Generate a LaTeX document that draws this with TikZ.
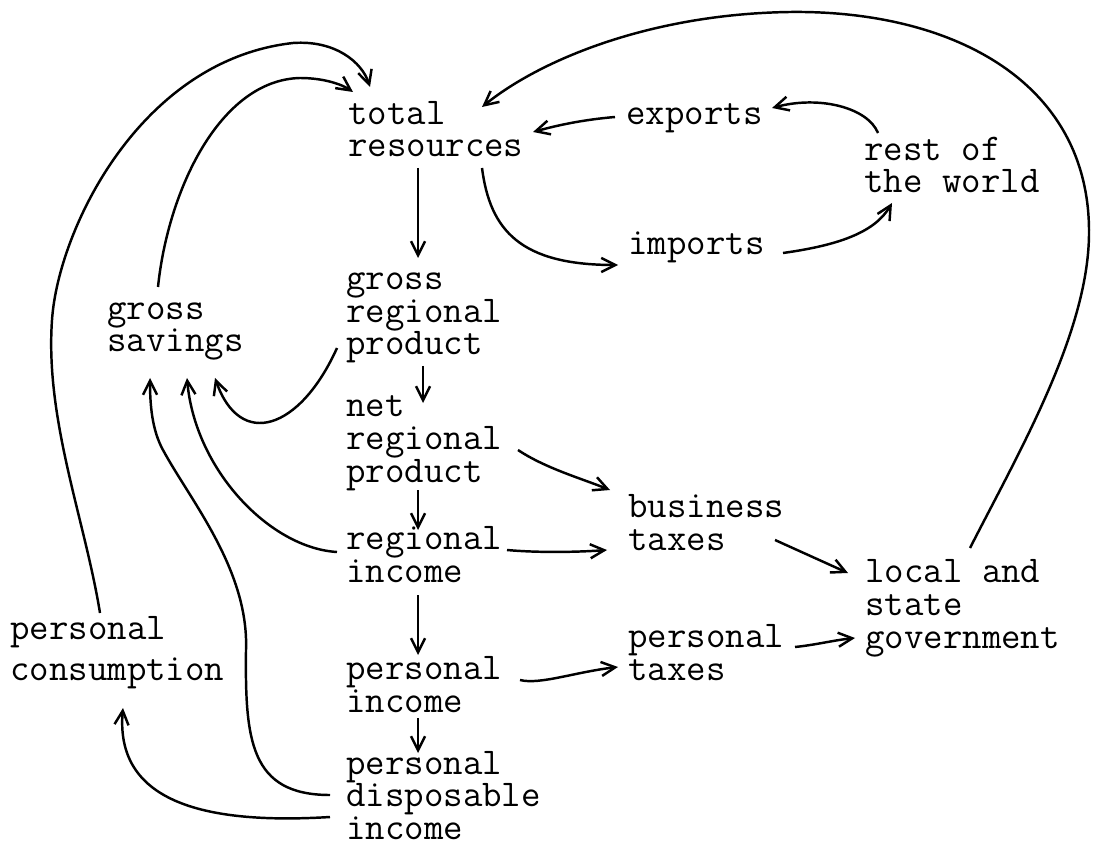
\documentclass[tikz,border=0pt]{standalone}
\usepackage{fontspec}
\usetikzlibrary{arrows.meta}

\begin{document}
\begin{tikzpicture}
  [x=0.02cm,y=-0.02cm,
   every node/.style={anchor=base west,align=left,inner sep=0pt,
     font=\ttfamily\fontsize{21.5pt}{18.5pt}\selectfont\addfontfeatures{FakeBold=1.3}},
   flow/.style={line width=1.4pt,-{Straight Barb[length=8pt,width=8pt]}}]
  \useasboundingbox (0,0) rectangle (1094,847);
  % accounts (placed at the baseline of their last line)
  \node (tr) at (348,157) {total\\resources};
  \node (exp) at (626,125) {exports};
  \node (row) at (864,193) {rest of\\the world};
  \node (imp) at (628,255) {imports};
  \node (grp) at (346,355) {gross\\regional\\product};
  \node (gs) at (107,352) {gross\\savings};
  \node (nrp) at (346,482) {net\\regional\\product};
  \node (bt) at (628,550) {business\\taxes};
  \node (ri) at (346,582) {regional\\income};
  \node (lsg) at (865,648) {local and\\state\\government};
  \node (pc) at (10,680) {personal\\[4.7pt]consumption};
  \node (pt) at (628,680) {personal\\taxes};
  \node (pi) at (346,712) {personal\\income};
  \node (pdi)[text depth=0pt] at (346,839) {personal\\disposable\\income};
  % main column
  \draw[flow] ([shift={(70,11)}]tr.base west) -- ([shift={(72,-97)}]grp.base west);
  \draw[flow] ([shift={(77,11)}]grp.base west) -- ([shift={(77,-79)}]nrp.base west);
  \draw[flow] ([shift={(72,8)}]nrp.base west) -- ([shift={(72,-52)}]ri.base west);
  \draw[flow] ([shift={(72,13)}]ri.base west) -- ([shift={(72,-57)}]pi.base west);
  \draw[flow] ([shift={(72,6)}]pi.base west) -- ([shift={(72,-86)}]pdi.base west);
  % foreign trade
  \draw[flow] ([shift={(-11,-8)}]exp.base west) .. controls (580,120) and (555,126) .. ([shift={(185,-25)}]tr.base west);
  \draw[flow] ([shift={(14,-60)}]row.base west) .. controls (868,108) and (820,95) .. ([shift={(146,-17)}]exp.base west);
  \draw[flow] ([shift={(155,-2)}]imp.base west) .. controls (840,245) and (875,232) .. ([shift={(28,10)}]row.base west);
  \draw[flow] ([shift={(134,11)}]tr.base west) .. controls (490,230) and (520,265) .. ([shift={(-10,10)}]imp.base west);
  % taxes and government
  \draw[flow] ([shift={(172,-32)}]nrp.base west) .. controls (545,468) and (580,478) .. ([shift={(-18,-60)}]bt.base west);
  \draw[flow] ([shift={(161,-32)}]ri.base west) .. controls (540,553) and (580,552) .. ([shift={(-21,0)}]bt.base west);
  \draw[flow] ([shift={(147,-10)}]bt.base west) -- ([shift={(-17,-75)}]lsg.base west);
  \draw[flow] ([shift={(174,-32)}]pi.base west) .. controls (540,685) and (575,672) .. ([shift={(-10,-13)}]pt.base west);
  \draw[flow] ([shift={(167,-33)}]pt.base west) .. controls (815,645) and (835,640) .. ([shift={(-10,-10)}]lsg.base west);
  \draw[flow] ([shift={(105,-100)}]lsg.base west) .. controls (1020,450) and (1090,330) .. (1089,230)
    .. controls (1088,80) and (950,10) .. (790,12)
    .. controls (650,14) and (540,60) .. ([shift={(134,-50)}]tr.base west);
  % savings and consumption
  \draw[flow] ([shift={(-9,-7)}]grp.base west) .. controls (300,430) and (240,450) .. ([shift={(108,26)}]gs.base west);
  \draw[flow] ([shift={(-9,-30)}]ri.base west) .. controls (270,548) and (195,470) .. ([shift={(80,26)}]gs.base west);
  \draw[flow] ([shift={(-16,-44)}]pdi.base west) .. controls (250,795) and (245,740) .. (246,650)
    .. controls (249,570) and (190,500) .. (163,450)
    .. controls (152,430) and (150,405) .. ([shift={(43,26)}]gs.base west);
  \draw[flow] ([shift={(-16,-22)}]pdi.base west) .. controls (200,825) and (115,800) .. ([shift={(113,28)}]pc.base west);
  \draw[flow] ([shift={(90,-67)}]pc.base west) .. controls (85,520) and (45,420) .. (52,320)
    .. controls (58,230) and (140,60) .. (293,43)
    .. controls (335,40) and (362,62) .. ([shift={(22,-70)}]tr.base west);
  \draw[flow] ([shift={(51,-65)}]gs.base west) .. controls (168,190) and (220,80) .. (300,78)
    .. controls (325,78) and (343,85) .. ([shift={(5,-65)}]tr.base west);
\end{tikzpicture}
\end{document}
